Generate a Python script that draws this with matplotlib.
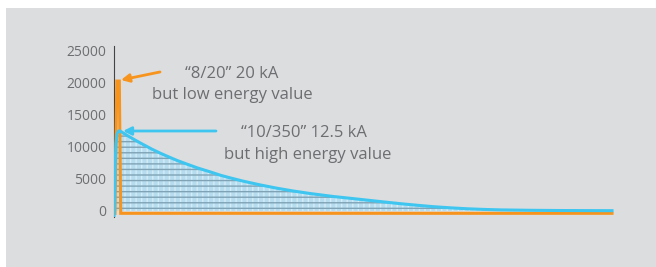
import matplotlib
matplotlib.use("Agg")
import matplotlib.pyplot as plt

plt.rcParams['font.family'] = ['Open Sans', 'DejaVu Sans']
plt.rcParams['hatch.linewidth'] = 1.0

# time in microseconds (schematic), current in A
blue_t = [0, 1, 2, 4, 6, 9, 12, 28, 44, 58, 76, 92, 108, 126, 146, 168, 192, 214, 236, 258,
          292, 326, 358, 392, 438, 472, 506, 538, 572, 606, 638, 672, 706, 738, 772,
          832, 892, 996]
blue_i = [-1100, 3000, 7000, 10500, 12000, 12500, 12500, 11725, 11000, 10400, 9650, 9050,
          8500, 7900, 7320, 6700, 6120, 5560, 5100, 4670, 4080, 3560, 3130, 2735, 2270, 1990,
          1700, 1430, 1150, 900, 680, 500, 350, 250, 175, 110, 75, 50]

orange_t = [2, 5.6, 10.6, 13.4, 996]
orange_i = [-360, 20300, 20300, -360, -360]

y_ticks = [0, 5000, 10000, 15000, 20000, 25000]

bg = "#dcdddf"
txt = "#6d6e71"
blue = "#3ec6f0"
orange = "#f7941d"

fig = plt.figure(figsize=(6.56, 2.67), dpi=100, facecolor="white")

# grey panel behind the chart
panel = fig.add_axes([6 / 656, 0, 650 / 656, 1 - 8 / 267])
panel.set_facecolor(bg)
panel.set_xticks([])
panel.set_yticks([])
for s in panel.spines.values():
    s.set_visible(False)

ax = fig.add_axes([114 / 656, 1 - 217.4 / 267, 500 / 656, (217.4 - 46.5) / 267])
ax.set_facecolor("none")
ax.set_xlim(0, 1000)
ax.set_ylim(-1000, 25700)

# hatched area under the 10/350 wave
pos = [max(v, 0) for v in blue_i]
ax.fill_between(blue_t, 0, pos, facecolor="#b6ddef", edgecolor="#d6ecf6",
                hatch="|||", linewidth=0, zorder=1)
ax.fill_between(blue_t, 0, pos, facecolor="none", edgecolor="#7fa3b5",
                hatch="---", linewidth=0, zorder=1)

ax.plot(orange_t, orange_i, color=orange, lw=2.2, zorder=3, solid_joinstyle="miter")
ax.plot(blue_t, blue_i, color=blue, lw=2.2, zorder=4)

ax.annotate("", xy=(14, 20470), xytext=(92, 21720),
            arrowprops=dict(arrowstyle="-|>", color=orange, lw=2, mutation_scale=12,
                            shrinkA=0, shrinkB=0))
ax.annotate("", xy=(18, 12500), xytext=(204, 12500),
            arrowprops=dict(arrowstyle="-|>", color=blue, lw=2, mutation_scale=12,
                            shrinkA=0, shrinkB=0))

fs = 12
ax.text(236, 21400, "\u201c8/20\u201d 20 kA", color=txt, fontsize=fs, ha="center", va="center")
ax.text(236, 18100, "but low energy value", color=txt, fontsize=fs, ha="center", va="center")
ax.text(380, 12250, "\u201c10/350\u201d 12.5 kA", color=txt, fontsize=fs, ha="center", va="center")
ax.text(388, 8800, "but high energy value", color=txt, fontsize=fs, ha="center", va="center")

ax.set_yticks(y_ticks)
ax.set_yticklabels([str(v) for v in y_ticks])
ax.tick_params(axis="y", length=0, pad=5.5, labelsize=10, labelcolor=txt)
ax.set_xticks([])
for s in ["top", "right", "bottom"]:
    ax.spines[s].set_visible(False)
ax.spines["left"].set_color("#444444")
ax.spines["left"].set_linewidth(0.8)

fig.savefig("out.png", dpi=100, facecolor="white")
